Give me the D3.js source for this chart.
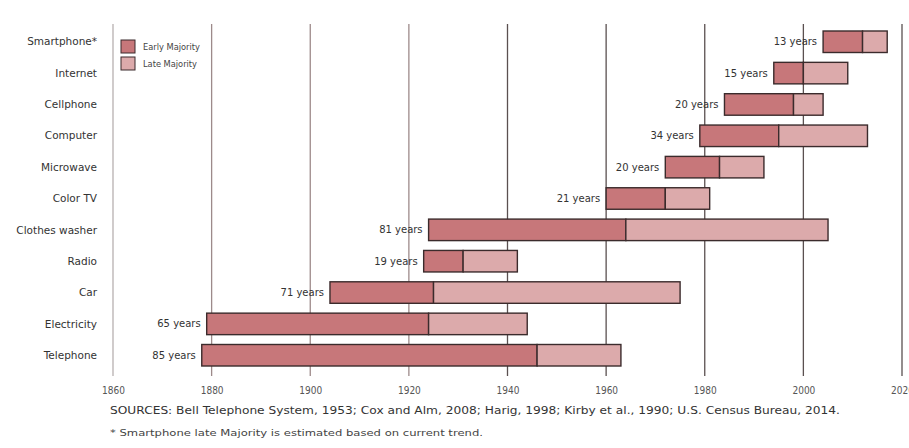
<!DOCTYPE html>
<html>
<head>
<meta charset="utf-8">
<script src="https://cdn.jsdelivr.net/npm/d3@7"></script>
<style>
  html, body { margin: 0; padding: 0; background: #fff; }
  svg { display: block; font-family: "DejaVu Sans", "Liberation Sans", sans-serif; }
</style>
</head>
<body>
<svg id="chart" width="909" height="448"></svg>
<script>
// Technology adoption: years from early majority start to late majority end
const technologies = ["Smartphone*", "Internet", "Cellphone", "Computer", "Microwave", "Color TV",
                      "Clothes washer", "Radio", "Car", "Electricity", "Telephone"];
const earlyStart = [2004, 1994, 1984, 1979, 1972, 1960, 1924, 1923, 1904, 1879, 1878];
const lateStart  = [2012, 2000, 1998, 1995, 1983, 1972, 1964, 1931, 1925, 1924, 1946];
const lateEnd    = [2017, 2009, 2004, 2013, 1992, 1981, 2005, 1942, 1975, 1944, 1963];
const yearTicks  = [1860, 1880, 1900, 1920, 1940, 1960, 1980, 2000, 2020];
const seriesNames = ["Early Majority", "Late Majority"];
const sourceNote = "SOURCES: Bell Telephone System, 1953; Cox and Alm, 2008; Harig, 1998; Kirby et al., 1990; U.S. Census Bureau, 2014.";
const footNote = "* Smartphone late Majority is estimated based on current trend.";

const colors = { early: "#c7777a", late: "#dcaaab", stroke: "#3b2b2c" };

const svg = d3.select("#chart");

const x = d3.scaleLinear().domain([1860, 2020]).range([113, 902]);
const y = d3.scaleBand().domain(technologies).range([31, 366]).paddingInner(0.314).paddingOuter(0);

// Vertical grid lines at each tick year
svg.append("g").selectAll("line").data(yearTicks).join("line")
  .attr("x1", d => x(d)).attr("x2", d => x(d))
  .attr("y1", 24).attr("y2", 376)
  .attr("stroke", d => d === 1860 ? "#b7b0b0" : (d < 1940 ? "#9d8a8a" : "#5a5050"))
  .attr("stroke-width", 1.3);

// Year axis labels
const xAxis = d3.axisBottom(x).tickValues(yearTicks).tickFormat(d3.format("d")).tickSize(0).tickPadding(0);
const axisG = svg.append("g").attr("transform", "translate(0,387)").call(xAxis);
axisG.select(".domain").remove();
axisG.selectAll("text").attr("fill", "#555").attr("font-size", 10)
  .attr("font-family", "DejaVu Sans Condensed, DejaVu Sans, sans-serif").attr("dy", "0.71em");

// Category labels
svg.append("g").selectAll("text").data(technologies).join("text")
  .attr("x", 97).attr("y", d => y(d) + y.bandwidth() / 2)
  .attr("dy", "0.35em").attr("text-anchor", "end")
  .attr("font-size", 10.5).attr("fill", "#333")
  .text(d => d);

// Bars
const rows = technologies.map((t, i) => ({ t, a: earlyStart[i], b: lateStart[i], c: lateEnd[i] }));
const barG = svg.append("g");
barG.selectAll("rect.early").data(rows).join("rect").attr("class", "early")
  .attr("x", d => x(d.a)).attr("y", d => y(d.t))
  .attr("width", d => x(d.b) - x(d.a)).attr("height", y.bandwidth())
  .attr("fill", colors.early).attr("stroke", colors.stroke).attr("stroke-width", 1.4);
barG.selectAll("rect.late").data(rows).join("rect").attr("class", "late")
  .attr("x", d => x(d.b)).attr("y", d => y(d.t))
  .attr("width", d => x(d.c) - x(d.b)).attr("height", y.bandwidth())
  .attr("fill", colors.late).attr("stroke", colors.stroke).attr("stroke-width", 1.4);

// Duration labels
svg.append("g").selectAll("text").data(rows).join("text")
  .attr("x", d => x(d.a) - 6).attr("y", d => y(d.t) + y.bandwidth() / 2)
  .attr("dy", "0.35em").attr("text-anchor", "end")
  .attr("font-size", 10).attr("fill", "#333")
  .text(d => `${d.c - d.a} years`);

// Legend
const legend = svg.append("g").attr("transform", "translate(121,40)");
seriesNames.forEach((name, i) => {
  const g = legend.append("g").attr("transform", `translate(0,${i * 17})`);
  g.append("rect").attr("width", 14).attr("height", 13)
    .attr("fill", i === 0 ? colors.early : colors.late)
    .attr("stroke", colors.stroke).attr("stroke-width", 1);
  g.append("text").attr("x", 22).attr("y", 7).attr("dy", "0.35em")
    .attr("font-family", "DejaVu Sans Condensed, DejaVu Sans, sans-serif")
    .attr("font-size", 9.2).attr("fill", "#444").text(name);
});

// Source and footnote
svg.append("text").attr("x", 110).attr("y", 414).attr("font-size", 10).attr("fill", "#333")
  .attr("textLength", 730).attr("lengthAdjust", "spacingAndGlyphs").text(sourceNote);
svg.append("text").attr("x", 110).attr("y", 436).attr("font-size", 9).attr("fill", "#444")
  .attr("textLength", 373).attr("lengthAdjust", "spacingAndGlyphs").text(footNote);
</script>
</body>
</html>
